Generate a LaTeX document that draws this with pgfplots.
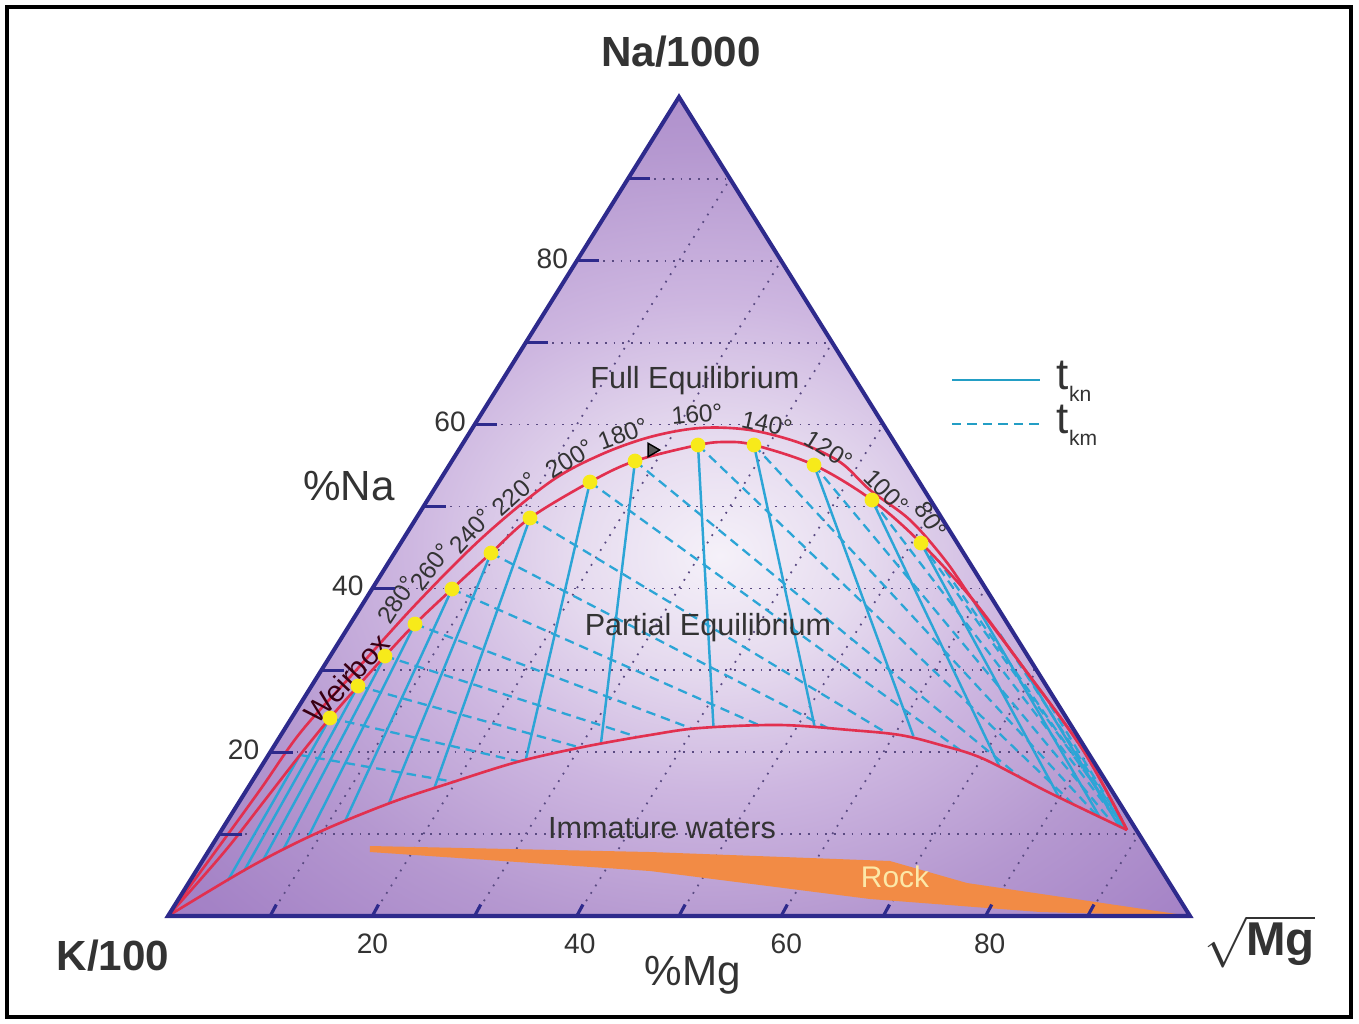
\documentclass[border=0pt]{standalone}
\usepackage{pgfplots}
\pgfplotsset{compat=1.18}
\usepackage{fontspec}
\setmainfont{Liberation Sans}
\definecolor{navy}{HTML}{2E2A8C}
\definecolor{redc}{HTML}{E2304F}
\definecolor{bluec}{HTML}{2CA5D6}
\definecolor{yel}{HTML}{F7EA1A}
\definecolor{rockc}{HTML}{F28B45}
\definecolor{rocktxt}{HTML}{FCE8A8}
\definecolor{gridc}{HTML}{5A4A82}
\definecolor{txt}{HTML}{333333}
\definecolor{g0}{HTML}{F5F1F9}
\definecolor{g1}{HTML}{E6DBEF}
\definecolor{g2}{HTML}{CDB6E0}
\definecolor{g3}{HTML}{B598D0}
\definecolor{g4}{HTML}{A482C6}
\definecolor{g5}{HTML}{9B76BF}
\pgfdeclareradialshading{glow}{\pgfpoint{2bp}{-3bp}}{color(0bp)=(g0); color(7bp)=(g1); color(15bp)=(g2); color(24bp)=(g3); color(33bp)=(g4); color(42bp)=(g5); color(90bp)=(g5)}
\begin{document}
\begin{tikzpicture}
\begin{axis}[
  width=13.59cm, height=10.23cm, scale only axis,
  xmin=-16.438, xmax=116.536, ymin=-13.065, ymax=111.844,
  hide axis, clip=false,
]
\path (rel axis cs:0,0) rectangle (rel axis cs:1,1);
% background triangle
\addplot[draw=none, shade, shading=glow] coordinates {(0,0) (100,0) (50,100)} -- cycle;
% grid: constant %Na
\pgfplotsset{gridl/.style={gridc, line width=0.5pt, dotted}}
\addplot[gridl] coordinates {(5,10) (95,10)};
\addplot[gridl] coordinates {(10,20) (90,20)};
\addplot[gridl] coordinates {(15,30) (85,30)};
\addplot[gridl] coordinates {(20,40) (80,40)};
\addplot[gridl] coordinates {(25,50) (75,50)};
\addplot[gridl] coordinates {(30,60) (70,60)};
\addplot[gridl] coordinates {(35,70) (65,70)};
\addplot[gridl] coordinates {(40,80) (60,80)};
\addplot[gridl] coordinates {(45,90) (55,90)};
% grid: constant %Mg
\addplot[gridl] coordinates {(10,0) (55,90)};
\addplot[gridl] coordinates {(20,0) (60,80)};
\addplot[gridl] coordinates {(30,0) (65,70)};
\addplot[gridl] coordinates {(40,0) (70,60)};
\addplot[gridl] coordinates {(50,0) (75,50)};
\addplot[gridl] coordinates {(60,0) (80,40)};
\addplot[gridl] coordinates {(70,0) (85,30)};
\addplot[gridl] coordinates {(80,0) (90,20)};
\addplot[gridl] coordinates {(90,0) (95,10)};
% rock field
\addplot[draw=none, fill=rockc] coordinates {(19.765,8.547) (47.162,7.814) (70.646,6.716) (78.18,4.029) (99.5,0.1) (99.5,0.0) (85.323,0.488) (68.689,2.076) (47.162,5.495) (19.765,7.814)} -- cycle;
% t_km isotherms (dashed)
\pgfplotsset{tkm/.style={bluec, line width=0.65pt, dash pattern=on 2.7pt off 1.7pt}}
\addplot[tkm] coordinates {(12.916,19.658) (28.08,16.36)};
\addplot[tkm] coordinates {(15.851,24.176) (34.344,18.864)};
\addplot[tkm] coordinates {(18.591,28.083) (40.313,20.574)};
\addplot[tkm] coordinates {(21.233,31.746) (45.792,21.917)};
\addplot[tkm] coordinates {(24.168,35.653) (51.370,22.833)};
\addplot[tkm] coordinates {(27.789,39.927) (58.023,23.199)};
\addplot[tkm] coordinates {(31.605,44.322) (64.677,22.869)};
\addplot[tkm] coordinates {(35.421,48.596) (70.156,22.466)};
\addplot[tkm] coordinates {(41.291,52.991) (77.495,20.269)};
\addplot[tkm] coordinates {(45.695,55.556) (83.464,16.850)};
\addplot[tkm] coordinates {(51.859,57.509) (88.552,13.675)};
\addplot[tkm] coordinates {(57.338,57.509) (90.90,12.259)};
\addplot[tkm] coordinates {(63.209,55.067) (92.270,11.60)};
\addplot[tkm] coordinates {(68.884,50.794) (93.444,10.745)};
\addplot[tkm] coordinates {(73.679,45.543) (93.737,10.623)};
\addplot[tkm] coordinates {(76.027,42.247) (93.64,10.62)};
\addplot[tkm] coordinates {(81.409,34.432) (93.70,10.62)};
\addplot[tkm] coordinates {(86.301,25.763) (93.75,10.60)};
% t_kn isotherms (solid)
\pgfplotsset{tkn/.style={bluec, line width=0.7pt}}
\addplot[tkn] coordinates {(12.916,19.658) (5.822,4.274)};
\addplot[tkn] coordinates {(15.851,24.176) (7.436,5.494)};
\addplot[tkn] coordinates {(18.591,28.083) (9.295,6.80)};
\addplot[tkn] coordinates {(21.233,31.746) (11.282,8.120)};
\addplot[tkn] coordinates {(24.168,35.653) (13.699,9.597)};
\addplot[tkn] coordinates {(27.789,39.927) (17.30,11.514)};
\addplot[tkn] coordinates {(31.605,44.322) (21.624,13.797)};
\addplot[tkn] coordinates {(35.421,48.596) (26.057,15.604)};
\addplot[tkn] coordinates {(41.291,52.991) (35.0,19.05)};
\addplot[tkn] coordinates {(45.695,55.556) (42.358,21.026)};
\addplot[tkn] coordinates {(51.859,57.509) (53.376,23.016)};
\addplot[tkn] coordinates {(57.338,57.509) (63.288,23.016)};
\addplot[tkn] coordinates {(63.209,55.067) (72.945,21.929)};
\addplot[tkn] coordinates {(68.884,50.794) (81.33,18.33)};
\addplot[tkn] coordinates {(73.679,45.543) (87.18,14.505)};
\addplot[tkn] coordinates {(78.767,38.584) (91.155,12.112)};
\addplot[tkn] coordinates {(83.659,30.403) (93.053,10.989)};
% red boundaries
\pgfplotsset{redl/.style={redc, line width=0.75pt, smooth, tension=0.55}}
\addplot[redl] coordinates {(0,0) (4.599,7.814) (9.002,15.385) (12.916,22.344) (17.808,29.182) (24.364,38.217) (30.822,46.276) (37.378,52.991) (42.270,56.288) (47.162,58.486) (52.055,59.585) (56.947,59.341) (61.839,57.753) (65.753,55.433) (68.689,52.015) (72.602,48.352) (76.027,43.468) (78.767,38.584) (83.659,30.403) (89.530,20.269) (93.835,10.501)};
\addplot[redl] coordinates {(0,0) (3.131,4.396) (6.067,8.669) (9.491,14.164) (12.916,19.658) (15.851,24.176) (18.591,28.083) (21.233,31.746) (24.168,35.653) (27.789,39.927) (31.605,44.322) (35.421,48.596) (41.291,52.991) (45.695,55.556) (51.859,57.509) (54.599,57.875) (57.338,57.509) (63.209,55.067) (68.884,50.794) (73.679,45.543) (78.767,38.584) (83.659,30.403) (89.530,20.269) (93.835,10.501)};
\addplot[redl] coordinates {(0,0) (8.023,5.983) (14.579,10.134) (21.722,13.797) (27.593,16.239) (34.149,18.803) (40.607,20.635) (47.162,22.100) (52.055,22.955) (59.882,23.321) (66.732,22.711) (71.624,22.100) (75.538,20.900) (79.745,19.214) (86.301,15.018) (93.835,10.501)};
% equilibrium points
\addplot[only marks, mark=*, mark size=1.9pt, mark options={fill=yel, draw=yel}] coordinates {(15.851,24.176) (18.591,28.083) (21.233,31.746) (24.168,35.653) (27.789,39.927) (31.605,44.322) (35.421,48.596) (41.291,52.991) (45.695,55.556) (51.859,57.509) (57.338,57.509) (63.209,55.067) (68.884,50.794) (73.679,45.543)};
\addplot[only marks, mark=triangle*, mark size=2.2pt, mark options={rotate=-90, fill=black!65, draw=none}] coordinates {(47.358,56.899)};
% temperature labels
\tikzset{tl/.style={font=\fontsize{7}{8}\selectfont, text=txt, inner sep=0pt}}
\node[tl, rotate=57] at (22.407,38.584) {280°};
\node[tl, rotate=53] at (25.734,42.613) {260°};
\node[tl, rotate=48] at (29.648,47.009) {240°};
\node[tl, rotate=42] at (33.953,51.526) {220°};
\node[tl, rotate=32] at (39.334,55.80) {200°};
\node[tl, rotate=20] at (44.520,58.852) {180°};
\node[tl, rotate=5] at (51.761,61.294) {160°};
\node[tl, rotate=-12] at (58.610,60.073) {140°};
\node[tl, rotate=-32] at (64.677,56.899) {120°};
\node[tl, rotate=-45] at (70.254,51.893) {100°};
\node[tl, rotate=-58] at (74.657,48.352) {80°};
\node[font=\fontsize{8.5}{10}\selectfont, text=black!70!purple, rotate=47, inner sep=0pt] at (17.5,29.0) {Weirbox};
% region labels
\node[font=\fontsize{8.7}{10}\selectfont, text=txt] at (51.565,65.324) {Full Equilibrium};
\node[font=\fontsize{8.7}{10}\selectfont, text=txt] at (52.837,35.165) {Partial Equilibrium};
\node[font=\fontsize{8.7}{10}\selectfont, text=txt] at (48.336,10.745) {Immature waters};
\node[font=\fontsize{8.5}{10}\selectfont, text=rocktxt] at (71.135,4.762) {Rock};
% triangle outline and ticks
\addplot[navy, line width=1.15pt, line join=miter] coordinates {(0,0) (100,0) (50,100)} -- cycle;
\pgfplotsset{tck/.style={navy, line width=0.9pt}}
\addplot[tck] coordinates {(5,10) (7.2,10)};
\addplot[tck] coordinates {(10,20) (12.2,20)};
\addplot[tck] coordinates {(15,30) (17.2,30)};
\addplot[tck] coordinates {(20,40) (22.2,40)};
\addplot[tck] coordinates {(25,50) (27.2,50)};
\addplot[tck] coordinates {(30,60) (32.2,60)};
\addplot[tck] coordinates {(35,70) (37.2,70)};
\addplot[tck] coordinates {(40,80) (42.2,80)};
\addplot[tck] coordinates {(45,90) (47.2,90)};
\addplot[tck] coordinates {(10,0) (10.6,1.4)};
\addplot[tck] coordinates {(20,0) (20.6,1.4)};
\addplot[tck] coordinates {(30,0) (30.6,1.4)};
\addplot[tck] coordinates {(40,0) (40.6,1.4)};
\addplot[tck] coordinates {(50,0) (50.6,1.4)};
\addplot[tck] coordinates {(60,0) (60.6,1.4)};
\addplot[tck] coordinates {(70,0) (70.6,1.4)};
\addplot[tck] coordinates {(80,0) (80.6,1.4)};
\addplot[tck] coordinates {(90,0) (90.6,1.4)};
% tick labels
\tikzset{tkl/.style={font=\fontsize{8}{9}\selectfont, text=txt}}
\node[tkl] at (7.4,20.3) {20};
\node[tkl] at (17.6,40.3) {40};
\node[tkl] at (27.6,60.3) {60};
\node[tkl] at (37.6,80.3) {80};
\node[tkl] at (20,-3.4) {20};
\node[tkl] at (40.3,-3.4) {40};
\node[tkl] at (60.5,-3.4) {60};
\node[tkl] at (80.4,-3.4) {80};
% axis titles
\node[font=\fontsize{12}{14}\selectfont, text=txt] at (17.71,52.5) {\%Na};
\node[font=\fontsize{12}{14}\selectfont, text=txt] at (51.37,-7.2) {\%Mg};
\node[font=\bfseries\fontsize{12}{14}\selectfont, text=txt] at (50.2,105.5) {Na/1000};
\node[font=\bfseries\fontsize{12}{14}\selectfont, text=txt] at (-5.38,-4.88) {K/100};
\node[font=\bfseries\fontsize{13.5}{15}\selectfont, text=txt] at (106.8,-3.1) {$\sqrt{\mbox{\bfseries Mg}}$};
% legend
\addplot[bluec!80!teal, line width=0.7pt] coordinates {(76.712,65.446) (85.323,65.446)};
\addplot[bluec!80!teal, line width=0.7pt, dash pattern=on 2.7pt off 1.7pt] coordinates {(76.712,60.073) (85.323,60.073)};
\node[font=\fontsize{12.5}{14}\selectfont, text=txt, anchor=west, inner sep=0pt] at (86.9,65.3) {t\raisebox{-0.5ex}{\fontsize{6}{7}\selectfont kn}};
\node[font=\fontsize{12.5}{14}\selectfont, text=txt, anchor=west, inner sep=0pt] at (86.9,59.9) {t\raisebox{-0.5ex}{\fontsize{6}{7}\selectfont km}};
% frame
\addplot[black, line width=1.0pt] coordinates {(-15.753,110.99) (115.753,110.99) (115.753,-12.33) (-15.753,-12.33)} -- cycle;
\end{axis}
\end{tikzpicture}
\end{document}
